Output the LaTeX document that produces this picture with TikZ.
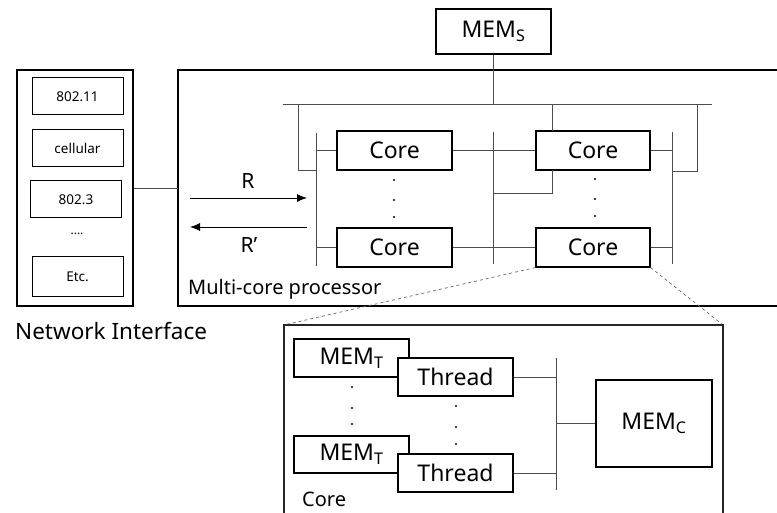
\documentclass[tikz,border=0pt]{standalone}
\usepackage{fontspec}
\setmainfont{Noto Sans}
\usetikzlibrary{arrows.meta}
\tikzset{
  box/.style={draw,line width=1.1pt,fill=white,inner sep=0pt,font=\fontsize{23}{25}\selectfont},
  netbox/.style={draw,line width=1pt,inner sep=0pt,minimum width=91pt,minimum height=37pt,font=\fontsize{13.5}{15}\selectfont},
  wire/.style={draw=black!70,line width=.7pt},
  frame/.style={line width=1.3pt},
  zoomline/.style={draw=black!60,dashed,line width=.7pt},
  vdot/.style={fill=black,radius=1.2pt},
}
\begin{document}
\begin{tikzpicture}[x=1pt,y=-1pt]
\useasboundingbox (0,0) rectangle (777,513);

% network interface
\node[draw,line width=1.2pt,minimum width=116pt,minimum height=236pt,inner sep=0pt] (ni) at (75,188) {};
\node[netbox] (wifi) at (77.5,96.5) {802.11};
\node[netbox] (cell) at (77.5,148.5) {cellular};
\node[netbox] (eth) at (76,199.5) {802.3};
\node[font=\fontsize{12}{14}\selectfont,inner sep=0pt] (more) at (77,234) {....};
\node[netbox,minimum height=40pt] (etc) at (77.5,277) {Etc.};
\node[anchor=west,inner sep=0pt,font=\fontsize{22.5}{25}\selectfont] (nilabel) at (15,331) {Network Interface};

% multi-core processor
\draw[frame] (777,70) -- (178,70) -- (178,306) -- (777,306);
\coordinate (mcl) at (178,188);
\draw[wire] (ni.east) -- (mcl);
\node[anchor=west,inner sep=0pt,font=\fontsize{20}{22}\selectfont] (mclabel) at (188,289) {Multi-core processor};

\node[box,minimum width=115pt,minimum height=45pt] (mems) at (493.5,31.5) {MEM\textsubscript{S}};
\coordinate (busL) at (283,104);
\coordinate (busR) at (712,104);
\draw[wire] (busL) -- (busR);
\draw[wire] (mems.south) -- (mems.south |- busL);

% cores
\node[box,minimum width=115pt,minimum height=39pt] (c1) at (394.5,150.5) {Core};
\node[box,minimum width=115pt,minimum height=39pt] (c2) at (394.5,247.5) {Core};
\node[box,minimum width=114pt,minimum height=39pt] (c3) at (593,150.5) {Core};
\node[box,minimum width=114pt,minimum height=39pt] (c4) at (593,247.5) {Core};

% core buses
\coordinate (lbusT) at (316,133);
\coordinate (lbusB) at (316,266);
\coordinate (mbusT) at (493,132);
\coordinate (mbusB) at (493,264);
\coordinate (rbusT) at (672,132);
\coordinate (rbusB) at (672,264);
\draw[wire] (lbusT) -- (lbusB);
\draw[wire] (mbusT) -- (mbusB);
\draw[wire] (rbusT) -- (rbusB);

\draw[wire] (298,104) |- (316,170);
\draw[wire] (c1.west) -- (c1.west -| lbusT);
\draw[wire] (c2.west) -- (c2.west -| lbusT);
\draw[wire] (c1.east) -- (c3.west);
\draw[wire] (c2.east) -- (c4.west);
\draw[wire] (c3.east) -- (c3.east -| rbusT);
\draw[wire] (c4.east) -- (c4.east -| rbusT);
\draw[wire] (552,104) -- (552,131);
\draw[wire] (552,170) |- (493,193);
\draw[wire] (697,104) |- (672,171);

\foreach \y in {180,200,217} {
  \fill[vdot] (394,\y) circle;
  \fill[vdot] (595,\y-1) circle;
}

% requests
\draw[line width=.8pt,-{Latex[length=10pt,width=8pt]}] (190,198) -- (307,198);
\draw[line width=.8pt,-{Latex[length=10pt,width=8pt]}] (307,227) -- (190,227);
\node[inner sep=0pt,font=\fontsize{21}{23}\selectfont] (rin) at (248,181) {R};
\node[inner sep=0pt,font=\fontsize{21}{23}\selectfont] (rout) at (249,245) {R’};

% core detail
\coordinate (zl) at (284,325);
\coordinate (zr) at (723,325);
\draw[zoomline] (c4.south west) -- (zl);
\draw[zoomline] (c4.south east) -- (zr);
\draw[line width=1.1pt,draw=black!85] (284,515) -- (zl) -- (zr) -- (723,515);
\node[anchor=west,inner sep=0pt,font=\fontsize{20}{22}\selectfont] (corelabel) at (302,499) {Core};

\node[box,minimum width=115pt,minimum height=38pt] (mt1) at (351.5,358) {MEM\textsubscript{T}};
\node[box,minimum width=115pt,minimum height=38pt] (th1) at (455.5,377) {Thread};
\node[box,minimum width=115pt,minimum height=37pt] (mt2) at (351.5,454.5) {MEM\textsubscript{T}};
\node[box,minimum width=115pt,minimum height=38pt] (th2) at (455.5,473) {Thread};
\node[box,minimum width=116pt,minimum height=87pt] (memc) at (654,423.5) {MEM\textsubscript{C}};

\coordinate (cbusT) at (556,358);
\coordinate (cbusB) at (556,490);
\draw[wire] (cbusT) -- (cbusB);
\draw[wire] (th1.east) -- (th1.east -| cbusT);
\draw[wire] (th2.east) -- (th2.east -| cbusT);
\draw[wire] (memc.west) -- (memc.west -| cbusT);

\foreach \y in {387,408,424} \fill[vdot] (352,\y) circle;
\foreach \y in {406,427,444} \fill[vdot] (456,\y) circle;
\end{tikzpicture}
\end{document}
